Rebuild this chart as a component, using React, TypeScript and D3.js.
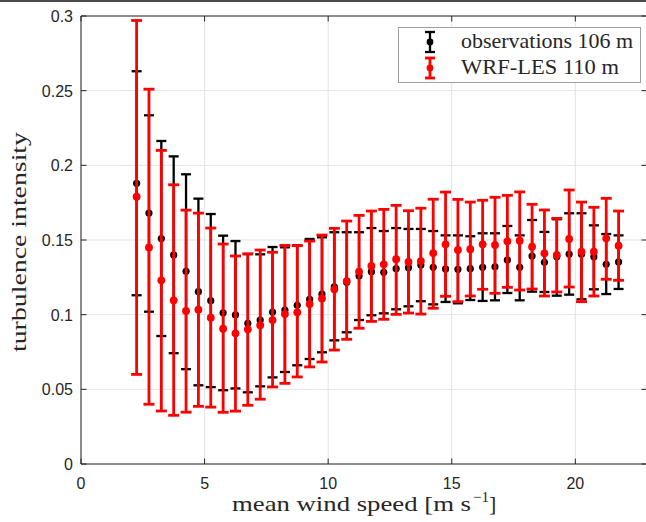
import React, { useEffect, useRef } from "react";
import * as d3 from "d3";

// bin centres of mean wind speed [m/s]
const windSpeed = [
  2.25, 2.75, 3.25, 3.75, 4.25, 4.75, 5.25, 5.75, 6.25, 6.75,
  7.25, 7.75, 8.25, 8.75, 9.25, 9.75, 10.25, 10.75, 11.25, 11.75,
  12.25, 12.75, 13.25, 13.75, 14.25, 14.75, 15.25, 15.75, 16.25, 16.75,
  17.25, 17.75, 18.25, 18.75, 19.25, 19.75, 20.25, 20.75, 21.25, 21.75,
];

// observations 106 m
const obsMean = [
  0.188, 0.168, 0.151, 0.140, 0.129, 0.1154, 0.1094, 0.1013, 0.0998, 0.0942,
  0.0964, 0.1018, 0.1031, 0.1063, 0.1103, 0.1138, 0.1187, 0.1217, 0.1259, 0.1288,
  0.1284, 0.1308, 0.1315, 0.1332, 0.1317, 0.1306, 0.1304, 0.1308, 0.1317, 0.1321,
  0.1366, 0.1317, 0.1393, 0.1351, 0.1388, 0.1406, 0.1404, 0.1388, 0.1337, 0.1353,
];
const obsLow = [
  0.113, 0.102, 0.0857, 0.0742, 0.0635, 0.0527, 0.0515, 0.0494, 0.0506, 0.048,
  0.052, 0.058, 0.0616, 0.0661, 0.0703, 0.0748, 0.0828, 0.0882, 0.0964, 0.0996,
  0.1009, 0.1036, 0.1056, 0.109, 0.1069, 0.1085, 0.1076, 0.1098, 0.1092, 0.1096,
  0.1145, 0.1096, 0.1154, 0.1152, 0.1127, 0.1134, 0.1103, 0.117, 0.1138, 0.1172,
];
const obsHigh = [
  0.263, 0.2335, 0.2163, 0.206, 0.194, 0.1777, 0.1674, 0.1529, 0.1493, 0.1405,
  0.1404, 0.1453, 0.1451, 0.1464, 0.1507, 0.1518, 0.1552, 0.1552, 0.1552, 0.158,
  0.156, 0.158, 0.1574, 0.1574, 0.156, 0.1531, 0.1531, 0.1525, 0.1545, 0.1545,
  0.1594, 0.1531, 0.1634, 0.1554, 0.1639, 0.1679, 0.1679, 0.1598, 0.154, 0.1531,
];

// WRF-LES 110 m
const wrfMean = [
  0.179, 0.145, 0.123, 0.1096, 0.1025, 0.1033, 0.098, 0.0906, 0.0875, 0.0902,
  0.0929, 0.0964, 0.1004, 0.1016, 0.1071, 0.1109, 0.117, 0.1225, 0.1288, 0.1326,
  0.1337, 0.1371, 0.1353, 0.1359, 0.1412, 0.1471, 0.1433, 0.1438, 0.1471, 0.1467,
  0.1491, 0.1495, 0.1455, 0.1411, 0.14, 0.1507, 0.1422, 0.1422, 0.1511, 0.1462,
];
const wrfLow = [
  0.060, 0.040, 0.0355, 0.0326, 0.0347, 0.0386, 0.0381, 0.0346, 0.0354, 0.0393,
  0.0434, 0.0516, 0.054, 0.0583, 0.065, 0.0683, 0.0763, 0.0835, 0.0909, 0.0955,
  0.0969, 0.1002, 0.1011, 0.1004, 0.1043, 0.1123, 0.1087, 0.1125, 0.117, 0.1143,
  0.1183, 0.1165, 0.1172, 0.1125, 0.1152, 0.1185, 0.1087, 0.1125, 0.1237, 0.123,
];
const wrfHigh = [
  0.297, 0.251, 0.210, 0.187, 0.170, 0.168, 0.158, 0.1473, 0.1393, 0.1408,
  0.1433, 0.1418, 0.1464, 0.1462, 0.1493, 0.1533, 0.1578, 0.1627, 0.1665, 0.1694,
  0.1705, 0.1732, 0.1696, 0.1713, 0.1773, 0.1821, 0.1772, 0.1754, 0.1766, 0.1786,
  0.1799, 0.1822, 0.1739, 0.1701, 0.1645, 0.1835, 0.1754, 0.1719, 0.1779, 0.1694,
];

const xTicks = [0, 5, 10, 15, 20];
const yTicks = [0, 0.05, 0.1, 0.15, 0.2, 0.25, 0.3];

const W = 646;
const H = 522;
const axisColor = "#262626";

const App = () => {
  const svgRef = useRef<SVGSVGElement>(null);

  useEffect(() => {
    const svg = d3.select(svgRef.current);
    svg.selectAll("*").remove();

    const left = 81, right = 647, top = 16, bottom = 464;

    const x = d3.scaleLinear().domain([0, 22.9]).range([left, right]);
    const y = d3.scaleLinear().domain([0, 0.3]).range([bottom, top]);

    // frame line at the very top
    svg.append("line")
      .attr("x1", 0).attr("x2", W)
      .attr("y1", 1).attr("y2", 1)
      .attr("stroke", "#4a4a4a").attr("stroke-width", 2);

    // grid
    const grid = svg.append("g").attr("stroke", "#e3e3e3").attr("stroke-width", 1);
    grid.selectAll("line.gx")
      .data(xTicks)
      .join("line")
      .attr("class", "gx")
      .attr("x1", d => x(d)).attr("x2", d => x(d))
      .attr("y1", top).attr("y2", bottom);
    grid.selectAll("line.gy")
      .data(yTicks)
      .join("line")
      .attr("class", "gy")
      .attr("x1", left).attr("x2", right)
      .attr("y1", d => y(d)).attr("y2", d => y(d));

    // error bars
    const drawSeries = (
      mean: number[], lo: number[], hi: number[],
      color: string, lw: number, cap: number, r: number
    ) => {
      const g = svg.append("g");
      const rows = windSpeed.map((w, i) => ({ w, m: mean[i], lo: lo[i], hi: hi[i] }));
      g.selectAll("line.v")
        .data(rows)
        .join("line")
        .attr("class", "v")
        .attr("x1", d => x(d.w)).attr("x2", d => x(d.w))
        .attr("y1", d => y(d.lo)).attr("y2", d => y(d.hi))
        .attr("stroke", color).attr("stroke-width", lw);
      g.selectAll("line.lo")
        .data(rows)
        .join("line")
        .attr("class", "lo")
        .attr("x1", d => x(d.w) - cap / 2).attr("x2", d => x(d.w) + cap / 2)
        .attr("y1", d => y(d.lo)).attr("y2", d => y(d.lo))
        .attr("stroke", color).attr("stroke-width", lw);
      g.selectAll("line.hi")
        .data(rows)
        .join("line")
        .attr("class", "hi")
        .attr("x1", d => x(d.w) - cap / 2).attr("x2", d => x(d.w) + cap / 2)
        .attr("y1", d => y(d.hi)).attr("y2", d => y(d.hi))
        .attr("stroke", color).attr("stroke-width", lw);
      g.selectAll("circle")
        .data(rows)
        .join("circle")
        .attr("cx", d => x(d.w)).attr("cy", d => y(d.m))
        .attr("r", r)
        .attr("fill", color);
    };

    drawSeries(obsMean, obsLow, obsHigh, "#000000", 2.3, 10, 3.6);
    drawSeries(wrfMean, wrfLow, wrfHigh, "#ff0000", 2.8, 11, 3.9);

    // axes box + inward ticks
    const ax = svg.append("g").attr("stroke", axisColor).attr("stroke-width", 1).attr("fill", "none");
    ax.append("line").attr("x1", left).attr("x2", right).attr("y1", bottom).attr("y2", bottom);
    ax.append("line").attr("x1", left).attr("x2", right).attr("y1", top).attr("y2", top);
    ax.append("line").attr("x1", left).attr("x2", left).attr("y1", top).attr("y2", bottom);
    ax.append("line").attr("x1", right).attr("x2", right).attr("y1", top).attr("y2", bottom);
    const tl = 5.5;
    xTicks.forEach(t => {
      ax.append("line").attr("x1", x(t)).attr("x2", x(t)).attr("y1", bottom).attr("y2", bottom - tl);
      ax.append("line").attr("x1", x(t)).attr("x2", x(t)).attr("y1", top).attr("y2", top + tl);
    });
    yTicks.forEach(t => {
      ax.append("line").attr("x1", left).attr("x2", left + tl).attr("y1", y(t)).attr("y2", y(t));
      ax.append("line").attr("x1", right).attr("x2", right - tl).attr("y1", y(t)).attr("y2", y(t));
    });

    // tick labels
    const sans = "'Liberation Sans', Arial, Helvetica, sans-serif";
    svg.append("g").selectAll("text")
      .data(xTicks)
      .join("text")
      .attr("x", d => x(d)).attr("y", 489)
      .attr("text-anchor", "middle")
      .attr("font-family", sans).attr("font-size", 16)
      .attr("fill", axisColor)
      .text(d => d3.format("")(d));
    svg.append("g").selectAll("text")
      .data(yTicks)
      .join("text")
      .attr("x", 73).attr("y", d => y(d) + 6)
      .attr("text-anchor", "end")
      .attr("font-family", sans).attr("font-size", 16)
      .attr("fill", axisColor)
      .text(d => (d === 0 ? "0" : String(+d.toFixed(2))));

    // axis labels
    const serif = "'Liberation Serif', 'Times New Roman', serif";
    svg.append("text")
      .attr("x", 232).attr("y", 511)
      .attr("font-family", serif).attr("font-size", 22)
      .attr("fill", axisColor)
      .attr("textLength", 239).attr("lengthAdjust", "spacingAndGlyphs")
      .text("mean wind speed [m s");
    svg.append("text")
      .attr("x", 473).attr("y", 502)
      .attr("font-family", serif).attr("font-size", 15)
      .attr("fill", axisColor)
      .text("\u22121");
    svg.append("text")
      .attr("x", 489).attr("y", 511)
      .attr("font-family", serif).attr("font-size", 22)
      .attr("fill", axisColor)
      .text("]");

    svg.append("text")
      .attr("transform", "translate(26,242) rotate(-90)")
      .attr("text-anchor", "middle")
      .attr("font-family", serif).attr("font-size", 22)
      .attr("fill", axisColor)
      .attr("textLength", 220).attr("lengthAdjust", "spacingAndGlyphs")
      .text("turbulence intensity");

    // legend
    const lg = svg.append("g");
    lg.append("rect")
      .attr("x", 398.5).attr("y", 27.5)
      .attr("width", 242).attr("height", 55)
      .attr("fill", "#ffffff").attr("stroke", "#a0a0a0").attr("stroke-width", 1);
    const items = [
      { label: "observations 106 m", color: "#000000", cy: 42, lw: 2.3, len: 172 },
      { label: "WRF-LES 110 m", color: "#ff0000", cy: 68, lw: 2.8, len: 158 },
    ];
    items.forEach(it => {
      const cx = 430;
      lg.append("line").attr("x1", cx).attr("x2", cx).attr("y1", it.cy - 10).attr("y2", it.cy + 10)
        .attr("stroke", it.color).attr("stroke-width", it.lw);
      lg.append("line").attr("x1", cx - 5).attr("x2", cx + 5).attr("y1", it.cy - 10).attr("y2", it.cy - 10)
        .attr("stroke", it.color).attr("stroke-width", it.lw);
      lg.append("line").attr("x1", cx - 5).attr("x2", cx + 5).attr("y1", it.cy + 10).attr("y2", it.cy + 10)
        .attr("stroke", it.color).attr("stroke-width", it.lw);
      lg.append("circle").attr("cx", cx).attr("cy", it.cy).attr("r", 3.4).attr("fill", it.color);
      lg.append("text")
        .attr("x", 461).attr("y", it.cy + 6)
        .attr("font-family", serif).attr("font-size", 21)
        .attr("fill", axisColor)
        .attr("textLength", it.len).attr("lengthAdjust", "spacingAndGlyphs")
        .text(it.label);
    });
  }, []);

  return (
    <svg
      ref={svgRef}
      width={W}
      height={H}
      style={{ position: "absolute", left: 0, top: 0, background: "#ffffff" }}
    ></svg>
  );
};

export default App;
